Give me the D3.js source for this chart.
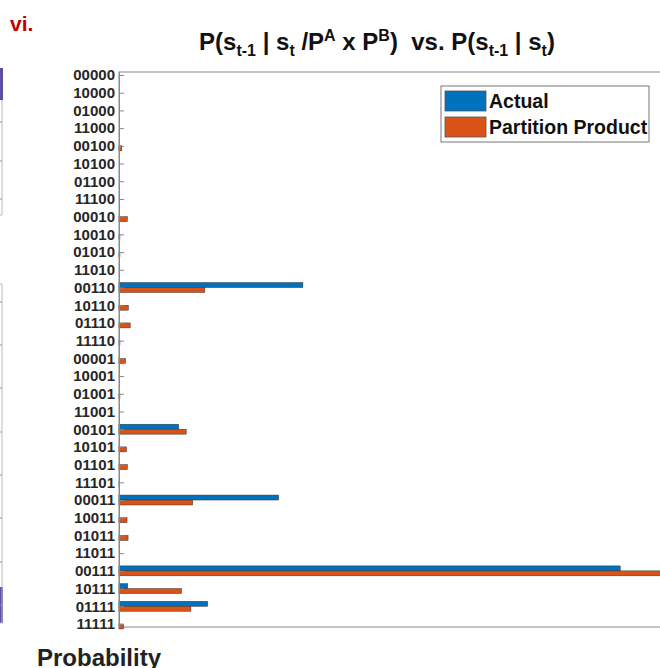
<!DOCTYPE html>
<html>
<head>
<meta charset="utf-8">
<script src="https://cdn.jsdelivr.net/npm/d3@7"></script>
<style>
  html, body { margin: 0; padding: 0; background: #fff; }
  svg { display: block; }
  text { font-family: "Liberation Sans", Arial, sans-serif; font-weight: bold; }
</style>
</head>
<body>
<div id="chart"></div>
<script>
// ---- data ----
const categories = ['00000','10000','01000','11000','00100','10100','01100','11100',
  '00010','10010','01010','11010','00110','10110','01110','11110',
  '00001','10001','01001','11001','00101','10101','01101','11101',
  '00011','10011','01011','11011','00111','10111','01111','11111'];
const actual = [0,0,0,0,0,0,0,0, 0,0,0,0,0.197,0,0,0, 0,0,0,0,0.064,0,0,0, 0.171,0,0,0,0.537,0.0093,0.095,0];
const partition = [0,0,0,0,0.003,0,0,0, 0.009,0.001,0.001,0,0.092,0.010,0.012,0.001, 0.007,0,0.001,0,0.072,0.008,0.009,0.0005, 0.079,0.0086,0.0097,0,0.59,0.067,0.077,0.005];
const seriesNames = ['Actual', 'Partition Product'];
const colors = ['#0072BD', '#D95319'];

const W = 660, H = 668;
const svg = d3.select('#chart').append('svg').attr('width', W).attr('height', H);

// ---- fragments of neighbouring panel at left edge ----
const frag = svg.append('g');
frag.append('rect').attr('x', 0).attr('y', 68).attr('width', 3).attr('height', 32).attr('fill', '#5a4ea6');
frag.append('rect').attr('x', 0).attr('y', 587).attr('width', 3).attr('height', 36).attr('fill', '#5a4ea6');
frag.append('path').attr('d', 'M2,100V215H0 M0,284H2V623H0').attr('stroke', '#bbb').attr('fill', 'none');
[122,161,199,302,345,388,432,475,518,562,605].forEach(y =>
  frag.append('line').attr('x1', 0).attr('x2', 2).attr('y1', y).attr('y2', y).attr('stroke', '#999'));

// ---- scales ----
const x = d3.scaleLinear().domain([0, 0.6]).range([119, 679]);
const y = d3.scaleLinear().domain([0.83, 32.17]).range([72, 627]);
const half = 0.28;

// axes box
svg.append('rect').attr('x', x(0)).attr('y', y(0.83)).attr('width', x(0.6) - x(0)).attr('height', y(32.17) - y(0.83))
  .attr('fill', 'none').attr('stroke', '#888').attr('stroke-width', 1);

// bars
const rows = categories.map((c, i) => ({c, i: i + 1, a: actual[i], p: partition[i]}));
const gBars = svg.append('g');
gBars.selectAll('rect.a').data(rows.filter(d => d.a > 0)).join('rect')
  .attr('x', x(0)).attr('y', d => y(d.i - half)).attr('width', d => x(d.a) - x(0)).attr('height', d => y(d.i) - y(d.i - half))
  .attr('fill', colors[0]).attr('stroke', '#333').attr('stroke-width', 0.5);
gBars.selectAll('rect.p').data(rows.filter(d => d.p > 0)).join('rect')
  .attr('x', x(0)).attr('y', d => y(d.i)).attr('width', d => x(d.p) - x(0)).attr('height', d => y(d.i + half) - y(d.i))
  .attr('fill', colors[1]).attr('stroke', '#333').attr('stroke-width', 0.5);

// y axis
const yAxis = d3.axisLeft(y).tickValues(d3.range(1, 33)).tickFormat(d => categories[d - 1])
  .tickSizeInner(-5).tickSizeOuter(0).tickPadding(4);
const gy = svg.append('g').attr('transform', `translate(${x(0)},0)`).call(yAxis);
gy.attr('font-size', 15).attr('font-family', '"Liberation Sans", Arial, sans-serif');
gy.select('.domain').attr('stroke', '#888');
gy.selectAll('.tick line').attr('stroke', '#888');
gy.selectAll('.tick text').attr('font-size', 15).attr('fill', '#262626')
  .style('font-family', '"Liberation Sans", Arial, sans-serif').style('font-weight', 'bold');

// legend
const lg = svg.append('g');
lg.append('rect').attr('x', 441).attr('y', 86).attr('width', 208).attr('height', 56)
  .attr('fill', '#fff').attr('stroke', '#777').attr('stroke-width', 1);
seriesNames.forEach((n, k) => {
  lg.append('rect').attr('x', 445).attr('y', 91 + k * 26).attr('width', 41).attr('height', 20)
    .attr('fill', colors[k]).attr('stroke', '#555').attr('stroke-width', 0.8);
  lg.append('text').attr('x', 489).attr('y', 108 + k * 26).attr('font-size', 19.5).attr('fill', '#111').text(n);
});

// panel label
svg.append('text').attr('x', 10).attr('y', 31).attr('font-size', 21).attr('fill', '#c00000').text('vi.');

// title
const t = svg.append('text').attr('x', 377).attr('y', 50).attr('text-anchor', 'middle')
  .attr('font-size', 24).attr('fill', '#111').attr('xml:space', 'preserve');
const parts = [
  ['P(s', 0], ['t-1', 1], [' | s', 0], ['t', 1], [' /P', 0], ['A', -1], [' x P', 0], ['B', -1],
  [')  vs. P(s', 0], ['t-1', 1], [' | s', 0], ['t', 1], [')', 0]
];
let prev = 0;
parts.forEach(([s, k]) => {
  const off = k === 1 ? 6 : (k === -1 ? -9 : 0);
  t.append('tspan').attr('dy', off - prev).attr('font-size', k === 0 ? 24 : 16).text(s);
  prev = off;
});

// x label
svg.append('text').attr('x', 37).attr('y', 666).attr('font-size', 24).attr('fill', '#222').text('Probability');
</script>
</body>
</html>
